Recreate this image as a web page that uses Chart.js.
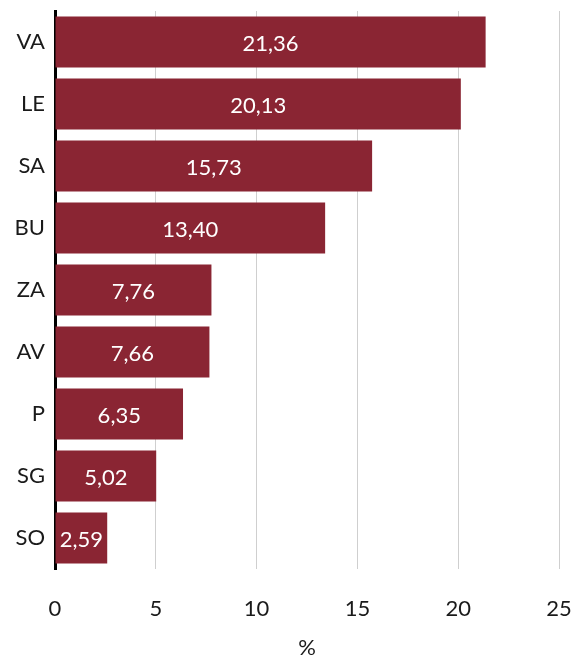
<!DOCTYPE html>
<html>
<head>
<meta charset="utf-8">
<script src="https://cdn.jsdelivr.net/npm/chart.js@4/dist/chart.umd.min.js"></script>
<style>
  html, body { margin: 0; padding: 0; background: #fff; }
  #wrap { width: 576px; height: 661px; }
</style>
</head>
<body>
<div id="wrap"><canvas id="mycanvas" width="576" height="661"></canvas></div>
<script>
// data
var regions = ["VA", "LE", "SA", "BU", "ZA", "AV", "P", "SG", "SO"];
var valeurs = [21.36, 20.13, 15.73, 13.40, 7.76, 7.66, 6.35, 5.02, 2.59];
var xTicks = [0, 5, 10, 15, 20, 25];

Chart.defaults.font.family = "Lato, 'DejaVu Sans', sans-serif";
Chart.defaults.font.size = 22;
Chart.defaults.color = "#1a1a1a";

// labels au centre des barres
var barLabels = {
  id: "barLabels",
  afterDatasetsDraw: function (chart) {
    var ctx = chart.ctx;
    var meta = chart.getDatasetMeta(0);
    ctx.save();
    ctx.fillStyle = "#fff";
    ctx.font = "22px " + Chart.defaults.font.family;
    ctx.textAlign = "center";
    ctx.textBaseline = "middle";
    meta.data.forEach(function (bar, i) {
      var x = (bar.x + bar.base) / 2;
      var txt = valeurs[i].toFixed(2).replace(".", ",");
      ctx.fillText(txt, x, bar.y + 2);
    });
    ctx.restore();
  }
};

var ctx = document.getElementById("mycanvas");
var barGraph = new Chart(ctx, {
  type: "bar",
  data: {
    labels: regions,
    datasets: [{
      data: valeurs,
      backgroundColor: "#8A2533",
      borderWidth: 0,
      categoryPercentage: 1,
      barPercentage: 0.82
    }]
  },
  plugins: [barLabels],
  options: {
    indexAxis: "y",
    responsive: false,
    animation: false,
    layout: { padding: { top: 11, right: 17, left: 0, bottom: 0 } },
    plugins: {
      legend: { display: false },
      tooltip: { enabled: false }
    },
    scales: {
      x: {
        min: 0,
        max: 25,
        afterBuildTicks: function (scale) {
          scale.ticks = xTicks.map(function (v) { return { value: v }; });
        },
        afterFit: function (scale) {
          scale.height = 92;
          scale.paddingLeft = 0;
          scale.paddingRight = 0;
        },
        grid: { color: "#cfcfcf", lineWidth: 1, drawTicks: false },
        border: { display: false },
        ticks: { padding: 27 },
        title: { display: true, text: "%", padding: { top: 0, bottom: 0 } }
      },
      y: {
        afterFit: function (scale) {
          scale.width = 55;
          scale.paddingTop = 0;
          scale.paddingBottom = 0;
        },
        grid: { display: false, drawTicks: false },
        border: { display: true, color: "#000", width: 3 },
        ticks: { padding: 10 }
      }
    }
  }
});
</script>
</body>
</html>
